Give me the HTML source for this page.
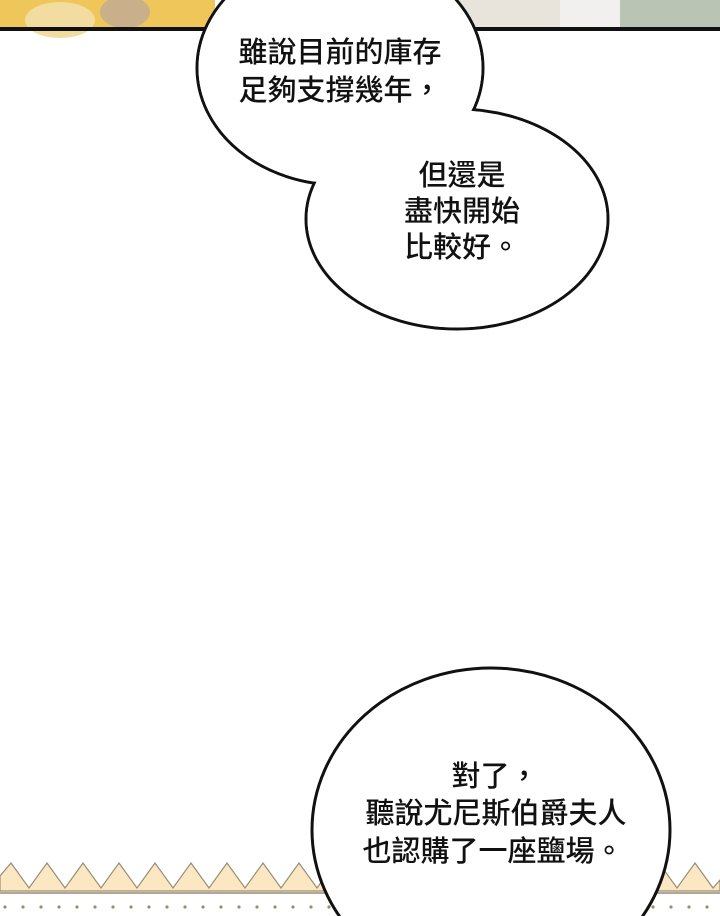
<!DOCTYPE html>
<html><head><meta charset="utf-8"><style>
html,body{margin:0;background:#fff;width:720px;height:916px;overflow:hidden}
svg{display:block}
text{font-family:"Liberation Sans","Noto Sans CJK TC",sans-serif;font-size:29px;font-weight:500;fill:#111;text-anchor:middle}
</style></head><body>
<svg width="720" height="916" viewBox="0 0 720 916" xmlns="http://www.w3.org/2000/svg">
<rect width="720" height="916" fill="#fff"/>
<rect x="0" y="0" width="215" height="29" fill="#eec65a"/>
<ellipse cx="60" cy="20" rx="35" ry="18" fill="#f3dca0"/>
<ellipse cx="125" cy="12" rx="25" ry="16" fill="#c9b08a"/>
<rect x="440" y="0" width="280" height="29" fill="#e8e4dc"/>
<rect x="560" y="0" width="60" height="29" fill="#f2f0ee"/>
<rect x="620" y="0" width="100" height="29" fill="#b9c4b4"/>
<rect x="0" y="27" width="720" height="4" fill="#111"/>
<polygon points="0,876 11,863 29,888 47,863 65,888 83,863 101,888 119,863 137,888 155,863 173,888 191,863 209,888 227,863 245,888 263,863 281,888 299,863 317,888 335,863 353,888 371,863 389,888 407,863 425,888 443,863 461,888 479,863 497,888 515,863 533,888 551,863 569,888 587,863 605,888 623,863 641,888 659,863 677,888 695,863 713,888 720,880 720,891 0,891" fill="#fbe8c3" stroke="#9a8c74" stroke-width="1.2"/>
<line x1="0" y1="893" x2="720" y2="893" stroke="#9a8c74" stroke-width="1.5"/>
<g fill="#9a8c74">
<circle cx="5" cy="907" r="1.6"/><circle cx="23" cy="907" r="1.6"/><circle cx="41" cy="907" r="1.6"/><circle cx="59" cy="907" r="1.6"/><circle cx="77" cy="907" r="1.6"/><circle cx="95" cy="907" r="1.6"/><circle cx="113" cy="907" r="1.6"/><circle cx="131" cy="907" r="1.6"/><circle cx="149" cy="907" r="1.6"/><circle cx="167" cy="907" r="1.6"/><circle cx="185" cy="907" r="1.6"/><circle cx="203" cy="907" r="1.6"/><circle cx="221" cy="907" r="1.6"/><circle cx="239" cy="907" r="1.6"/><circle cx="257" cy="907" r="1.6"/><circle cx="275" cy="907" r="1.6"/><circle cx="293" cy="907" r="1.6"/><circle cx="311" cy="907" r="1.6"/><circle cx="329" cy="907" r="1.6"/><circle cx="653" cy="907" r="1.6"/><circle cx="671" cy="907" r="1.6"/><circle cx="689" cy="907" r="1.6"/><circle cx="707" cy="907" r="1.6"/>
</g>
<g stroke="#111" stroke-width="3" fill="#fff">
<ellipse cx="340" cy="68" rx="143" ry="117"/>
<ellipse cx="457" cy="219" rx="151" ry="110"/>
</g>
<g fill="#fff">
<ellipse cx="340" cy="68" rx="141.5" ry="115.5"/>
<ellipse cx="457" cy="219" rx="149.5" ry="108.5"/>
</g>
<text x="340" y="62">雖說目前的庫存</text>
<text x="340" y="100">足夠支撐幾年，</text>
<text x="462" y="185">但還是</text>
<text x="462" y="221">盡快開始</text>
<text x="462" y="257">比較好。</text>
<ellipse cx="491" cy="830" rx="179" ry="162" fill="#fff" stroke="#111" stroke-width="3"/>
<text x="495" y="786">對了，</text>
<text x="496" y="823">聽說尤尼斯伯爵夫人</text>
<text x="493" y="861">也認購了一座鹽場。</text>
</svg>
</body></html>
